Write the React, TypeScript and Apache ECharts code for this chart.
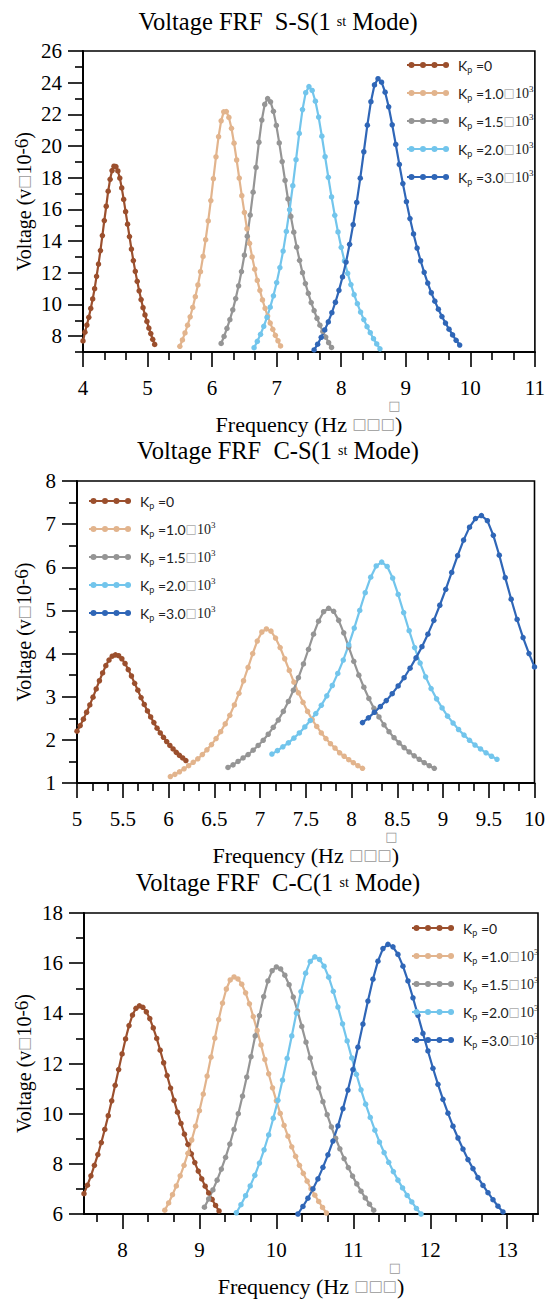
import { useEffect, useRef } from "react";
import * as echarts from "echarts";

// ---------------- data ----------------
const kpValues = ["0", "1.0", "1.5", "2.0", "3.0"];
const seriesNames = ["Kp=0", "Kp=1.0e3", "Kp=1.5e3", "Kp=2.0e3", "Kp=3.0e3"];
const seriesColors = ["#9B4F2D", "#E2B48D", "#959595", "#72C5EC", "#2F66B7"];

// S-S
const ssKp0 = [[4.00,7.7],[4.03,8.25],[4.06,8.7],[4.09,9.19],[4.12,9.75],[4.15,10.35],[4.18,11.0],[4.21,11.78],[4.24,12.55],[4.27,13.4],[4.30,14.35],[4.33,15.3],[4.36,16.2],[4.39,17.15],[4.42,17.9],[4.45,18.45],[4.48,18.73],[4.51,18.7],[4.54,18.43],[4.57,17.98],[4.60,17.36],[4.63,16.63],[4.66,15.86],[4.69,15.07],[4.72,14.29],[4.75,13.5],[4.78,12.77],[4.81,12.09],[4.84,11.46],[4.87,10.86],[4.90,10.31],[4.93,9.8],[4.96,9.34],[4.99,8.93],[5.02,8.51],[5.05,8.16],[5.08,7.8],[5.11,7.48]];
const ssKp10 = [[5.50,7.36],[5.54,7.76],[5.58,8.2],[5.62,8.69],[5.66,9.22],[5.70,9.81],[5.74,10.49],[5.78,11.23],[5.82,12.07],[5.86,13.03],[5.90,14.09],[5.94,15.27],[5.98,16.56],[6.02,17.94],[6.06,19.32],[6.10,20.59],[6.14,21.59],[6.18,22.16],[6.22,22.18],[6.26,21.81],[6.30,21.12],[6.34,20.18],[6.38,19.12],[6.42,17.98],[6.46,16.87],[6.50,15.81],[6.54,14.78],[6.58,13.85],[6.62,13.0],[6.66,12.23],[6.70,11.52],[6.74,10.89],[6.78,10.29],[6.82,9.76],[6.86,9.27],[6.90,8.83],[6.94,8.43],[6.98,8.05],[7.02,7.71],[7.06,7.38]];
const ssKp15 = [[6.14,7.54],[6.185,7.98],[6.23,8.49],[6.275,9.04],[6.32,9.66],[6.365,10.37],[6.41,11.18],[6.455,12.08],[6.50,13.11],[6.545,14.31],[6.59,15.64],[6.635,17.09],[6.68,18.65],[6.725,20.24],[6.77,21.64],[6.815,22.63],[6.86,23.0],[6.905,22.79],[6.95,22.19],[6.995,21.3],[7.04,20.2],[7.085,19.02],[7.13,17.83],[7.175,16.66],[7.22,15.56],[7.265,14.56],[7.31,13.62],[7.355,12.79],[7.40,12.01],[7.445,11.32],[7.49,10.7],[7.535,10.12],[7.58,9.61],[7.625,9.13],[7.67,8.69],[7.715,8.3],[7.76,7.94],[7.805,7.59],[7.85,7.29]];
const ssKp20 = [[6.65,7.27],[6.70,7.67],[6.75,8.12],[6.80,8.62],[6.85,9.19],[6.90,9.83],[6.95,10.55],[7.00,11.38],[7.05,12.33],[7.10,13.37],[7.15,14.61],[7.20,15.98],[7.25,17.5],[7.30,19.14],[7.35,20.8],[7.40,22.3],[7.45,23.37],[7.50,23.75],[7.55,23.51],[7.60,22.83],[7.65,21.83],[7.70,20.62],[7.75,19.33],[7.80,18.03],[7.85,16.79],[7.90,15.63],[7.95,14.58],[8.00,13.61],[8.05,12.75],[8.10,11.97],[8.15,11.26],[8.20,10.62],[8.25,10.05],[8.30,9.52],[8.35,9.05],[8.40,8.6],[8.45,8.22],[8.50,7.84],[8.55,7.51],[8.60,7.2]];
const ssKp30 = [[7.58,7.13],[7.635,7.49],[7.69,7.93],[7.745,8.39],[7.80,8.9],[7.855,9.48],[7.91,10.14],[7.965,10.89],[8.02,11.74],[8.075,12.68],[8.13,13.8],[8.185,15.04],[8.24,16.44],[8.295,17.97],[8.35,19.64],[8.405,21.32],[8.46,22.8],[8.515,23.86],[8.57,24.25],[8.625,24.03],[8.68,23.4],[8.735,22.48],[8.79,21.34],[8.845,20.1],[8.90,18.84],[8.955,17.63],[9.01,16.49],[9.065,15.42],[9.12,14.45],[9.175,13.56],[9.23,12.76],[9.285,12.03],[9.34,11.35],[9.395,10.74],[9.45,10.21],[9.505,9.7],[9.56,9.24],[9.615,8.83],[9.67,8.44],[9.725,8.08],[9.78,7.74],[9.835,7.44]];

// C-S
const csKp0 = [[5.00,2.2],[5.035,2.33],[5.07,2.48],[5.105,2.64],[5.14,2.81],[5.175,2.99],[5.21,3.18],[5.245,3.37],[5.28,3.55],[5.315,3.72],[5.35,3.85],[5.385,3.94],[5.42,3.97],[5.455,3.95],[5.49,3.88],[5.525,3.77],[5.56,3.63],[5.595,3.48],[5.63,3.31],[5.665,3.15],[5.70,2.98],[5.735,2.82],[5.77,2.67],[5.805,2.53],[5.84,2.4],[5.875,2.27],[5.91,2.16],[5.945,2.06],[5.98,1.96],[6.015,1.87],[6.05,1.79],[6.085,1.71],[6.12,1.64],[6.155,1.58],[6.19,1.52]];
const csKp10 = [[6.02,1.15],[6.07,1.2],[6.12,1.26],[6.17,1.33],[6.22,1.4],[6.27,1.48],[6.32,1.56],[6.37,1.66],[6.42,1.77],[6.47,1.89],[6.52,2.03],[6.57,2.19],[6.62,2.37],[6.67,2.57],[6.72,2.81],[6.77,3.08],[6.82,3.37],[6.87,3.68],[6.92,4.0],[6.97,4.29],[7.02,4.5],[7.07,4.57],[7.12,4.52],[7.17,4.36],[7.22,4.14],[7.27,3.88],[7.32,3.61],[7.37,3.34],[7.42,3.09],[7.47,2.87],[7.52,2.66],[7.57,2.47],[7.62,2.31],[7.67,2.16],[7.72,2.03],[7.77,1.91],[7.82,1.81],[7.87,1.7],[7.92,1.62],[7.97,1.54],[8.02,1.47],[8.07,1.4],[8.12,1.34]];
const csKp15 = [[6.65,1.36],[6.705,1.42],[6.76,1.5],[6.815,1.58],[6.87,1.66],[6.925,1.76],[6.98,1.87],[7.035,1.99],[7.09,2.13],[7.145,2.29],[7.20,2.46],[7.255,2.66],[7.31,2.89],[7.365,3.15],[7.42,3.44],[7.475,3.76],[7.53,4.1],[7.585,4.45],[7.64,4.75],[7.695,4.97],[7.75,5.05],[7.805,4.98],[7.86,4.77],[7.915,4.48],[7.97,4.15],[8.025,3.82],[8.08,3.5],[8.135,3.22],[8.19,2.96],[8.245,2.73],[8.30,2.53],[8.355,2.35],[8.41,2.19],[8.465,2.05],[8.52,1.93],[8.575,1.82],[8.63,1.72],[8.685,1.63],[8.74,1.55],[8.795,1.47],[8.85,1.4],[8.905,1.34]];
const csKp20 = [[7.13,1.67],[7.19,1.75],[7.25,1.84],[7.31,1.93],[7.37,2.04],[7.43,2.16],[7.49,2.3],[7.55,2.45],[7.61,2.61],[7.67,2.8],[7.73,3.02],[7.79,3.26],[7.85,3.54],[7.91,3.85],[7.97,4.2],[8.03,4.59],[8.09,5.0],[8.15,5.41],[8.21,5.77],[8.27,6.03],[8.33,6.12],[8.39,6.02],[8.45,5.75],[8.51,5.37],[8.57,4.95],[8.63,4.53],[8.69,4.14],[8.75,3.78],[8.81,3.46],[8.87,3.19],[8.93,2.95],[8.99,2.74],[9.05,2.55],[9.11,2.39],[9.17,2.24],[9.23,2.11],[9.29,1.99],[9.35,1.88],[9.41,1.79],[9.47,1.7],[9.53,1.62],[9.59,1.55]];
const csKp30 = [[8.12,2.4],[8.185,2.51],[8.25,2.64],[8.315,2.77],[8.38,2.91],[8.445,3.07],[8.51,3.25],[8.575,3.44],[8.64,3.66],[8.705,3.9],[8.77,4.16],[8.835,4.45],[8.90,4.77],[8.965,5.12],[9.03,5.49],[9.095,5.88],[9.16,6.27],[9.225,6.63],[9.29,6.93],[9.355,7.13],[9.42,7.2],[9.485,7.08],[9.55,6.74],[9.615,6.28],[9.68,5.76],[9.745,5.26],[9.81,4.79],[9.875,4.37],[9.94,4.0],[10.0,3.69]];

// C-C
const ccKp0 = [[7.50,6.81],[7.545,7.15],[7.59,7.52],[7.635,7.94],[7.68,8.37],[7.725,8.85],[7.77,9.37],[7.815,9.92],[7.86,10.51],[7.905,11.13],[7.95,11.76],[7.995,12.38],[8.04,12.98],[8.085,13.51],[8.13,13.93],[8.175,14.2],[8.22,14.3],[8.265,14.24],[8.31,14.06],[8.355,13.79],[8.40,13.42],[8.445,13.0],[8.49,12.53],[8.535,12.03],[8.58,11.52],[8.625,11.02],[8.67,10.53],[8.715,10.06],[8.76,9.61],[8.805,9.18],[8.85,8.78],[8.895,8.4],[8.94,8.05],[8.985,7.71],[9.03,7.4],[9.075,7.11],[9.12,6.84],[9.165,6.58],[9.21,6.34],[9.255,6.12]];
const ccKp10 = [[8.55,6.15],[8.60,6.44],[8.65,6.77],[8.70,7.12],[8.75,7.52],[8.80,7.94],[8.85,8.42],[8.90,8.95],[8.95,9.5],[9.00,10.12],[9.05,10.78],[9.10,11.5],[9.15,12.25],[9.20,13.01],[9.25,13.75],[9.30,14.41],[9.35,14.97],[9.40,15.33],[9.45,15.45],[9.50,15.37],[9.55,15.16],[9.60,14.82],[9.65,14.38],[9.70,13.87],[9.75,13.32],[9.80,12.74],[9.85,12.16],[9.90,11.59],[9.95,11.03],[10.00,10.51],[10.05,10.01],[10.10,9.53],[10.15,9.1],[10.20,8.68],[10.25,8.3],[10.30,7.94],[10.35,7.62],[10.40,7.31],[10.45,7.01],[10.50,6.75],[10.55,6.5],[10.60,6.26],[10.65,6.04]];
const ccKp15 = [[9.065,6.27],[9.12,6.6],[9.175,6.96],[9.23,7.35],[9.285,7.79],[9.34,8.26],[9.395,8.79],[9.45,9.37],[9.505,10.0],[9.56,10.7],[9.615,11.46],[9.67,12.27],[9.725,13.1],[9.78,13.91],[9.835,14.67],[9.89,15.29],[9.945,15.7],[10.0,15.85],[10.055,15.77],[10.11,15.52],[10.165,15.14],[10.22,14.65],[10.275,14.09],[10.33,13.48],[10.385,12.85],[10.44,12.22],[10.495,11.62],[10.55,11.03],[10.605,10.48],[10.66,9.96],[10.715,9.47],[10.77,9.02],[10.825,8.6],[10.88,8.21],[10.935,7.85],[10.99,7.51],[11.045,7.2],[11.10,6.91],[11.155,6.64],[11.21,6.39],[11.265,6.15]];
const ccKp20 = [[9.48,6.05],[9.54,6.37],[9.60,6.73],[9.66,7.12],[9.72,7.54],[9.78,8.03],[9.84,8.56],[9.90,9.15],[9.96,9.82],[10.02,10.53],[10.08,11.34],[10.14,12.2],[10.20,13.1],[10.26,14.01],[10.32,14.87],[10.38,15.6],[10.44,16.07],[10.50,16.25],[10.56,16.15],[10.62,15.88],[10.68,15.44],[10.74,14.88],[10.80,14.25],[10.86,13.58],[10.92,12.9],[10.98,12.22],[11.04,11.57],[11.10,10.95],[11.16,10.38],[11.22,9.85],[11.28,9.34],[11.34,8.87],[11.40,8.45],[11.46,8.06],[11.52,7.69],[11.58,7.35],[11.64,7.04],[11.70,6.74],[11.76,6.48],[11.82,6.22],[11.88,6.0]];
const ccKp30 = [[10.28,6.0],[10.345,6.3],[10.41,6.63],[10.475,7.0],[10.54,7.4],[10.605,7.86],[10.67,8.36],[10.735,8.91],[10.80,9.51],[10.865,10.2],[10.93,10.94],[10.995,11.76],[11.06,12.65],[11.125,13.57],[11.19,14.49],[11.255,15.36],[11.32,16.08],[11.385,16.58],[11.45,16.75],[11.515,16.65],[11.58,16.35],[11.645,15.88],[11.71,15.29],[11.775,14.62],[11.84,13.92],[11.905,13.2],[11.97,12.5],[12.035,11.81],[12.10,11.17],[12.165,10.57],[12.23,10.02],[12.295,9.5],[12.36,9.03],[12.425,8.59],[12.49,8.17],[12.555,7.81],[12.62,7.45],[12.685,7.14],[12.75,6.85],[12.815,6.57],[12.88,6.31],[12.945,6.08]];

// tick labels
const ssXTicks = [4, 5, 6, 7, 8, 9, 10, 11];
const ssYTicks = [8, 10, 12, 14, 16, 18, 20, 22, 24, 26];
const csXTicks = [5, 5.5, 6, 6.5, 7, 7.5, 8, 8.5, 9, 9.5, 10];
const csYTicks = [1, 2, 3, 4, 5, 6, 7, 8];
const ccXTicks = [8, 9, 10, 11, 12, 13];
const ccYTicks = [6, 8, 10, 12, 14, 16, 18];

const titles = ["S-S", "C-S", "C-C"];

// ---------------- layout ----------------
const panels = [
  {
    mode: titles[0], data: [ssKp0, ssKp10, ssKp15, ssKp20, ssKp30],
    xMin: 4, xMax: 11, yMin: 7, yMax: 26, xTicks: ssXTicks, yTicks: ssYTicks,
    xMinorStep: 1 / 3, yMinorStep: 1,
    grid: { left: 83, top: 51, width: 455, height: 301 },
    legend: { left: 407, top: 58 }, titleY: 21,
  },
  {
    mode: titles[1], data: [csKp0, csKp10, csKp15, csKp20, csKp30],
    xMin: 5, xMax: 10, yMin: 1, yMax: 8, xTicks: csXTicks, yTicks: csYTicks,
    xMinorStep: 1 / 6, yMinorStep: 0.5,
    grid: { left: 77, top: 481, width: 461, height: 302 },
    legend: { left: 89, top: 494 }, titleY: 450,
  },
  {
    mode: titles[2], data: [ccKp0, ccKp10, ccKp15, ccKp20, ccKp30],
    xMin: 7.5, xMax: 13.4, yMin: 6, yMax: 18, xTicks: ccXTicks, yTicks: ccYTicks,
    xMinorStep: 1 / 3, yMinorStep: 1,
    grid: { left: 84, top: 913, width: 454, height: 301 },
    legend: { left: 412, top: 921 }, titleY: 882,
  },
];

function minorTicks(min: number, max: number, step: number, majors: number[]) {
  const out: number[] = [];
  const start = Math.ceil(min / step - 1e-9);
  for (let k = start; k * step <= max + 1e-9; k++) {
    const v = +(k * step).toFixed(6);
    if (!majors.some((m) => Math.abs(m - v) < 1e-6)) out.push(v);
  }
  return out;
}

const SERIF = "'Liberation Serif', 'Times New Roman', serif";
const SANS = "Lato, 'Open Sans', sans-serif";
const BOXF = "'DejaVu Sans', sans-serif";
const BLACK = "#000";
const lineSt = { color: BLACK, width: 1.6 };

const legendIcon =
  "path://M0,2L42,2L42,4L0,4Z" +
  "M1.5,3A3,3 0 1,1 7.5,3A3,3 0 1,1 1.5,3Z" +
  "M13,3A3,3 0 1,1 19,3A3,3 0 1,1 13,3Z" +
  "M24.5,3A3,3 0 1,1 30.5,3A3,3 0 1,1 24.5,3Z" +
  "M36,3A3,3 0 1,1 42,3A3,3 0 1,1 36,3Z";

const legendRich = {
  k: { fontFamily: SANS, fontSize: 14, lineHeight: 18, color: "#222", padding: [0, 0, 0, 4] },
  p: { fontFamily: SANS, fontSize: 9, lineHeight: 8, verticalAlign: "bottom", color: "#222" },
  t: { fontFamily: SANS, fontSize: 14, lineHeight: 18, color: "#222" },
  b: { fontFamily: BOXF, fontSize: 12, lineHeight: 18, color: "#aaa" },
  n: { fontFamily: SERIF, fontSize: 14, lineHeight: 18, color: "#222" },
  e: { fontFamily: SERIF, fontSize: 9, lineHeight: 12, verticalAlign: "top", color: "#222" },
};

function legendFormatter(name: string) {
  const i = seriesNames.indexOf(name);
  if (i === 0) return "{k|K}{p|p}{t| =" + kpValues[0] + "}";
  return "{k|K}{p|p}{t| =" + kpValues[i] + "}{b|□}{n|10}{e|3}";
}

function buildOption() {
  const grid: any[] = [];
  const xAxis: any[] = [];
  const yAxis: any[] = [];
  const legend: any[] = [];
  const series: any[] = [];
  const graphic: any[] = [];

  panels.forEach((p, gi) => {
    grid.push({ ...p.grid, show: true, borderColor: BLACK, borderWidth: 1.6, backgroundColor: "transparent" });
    const xMinor = minorTicks(p.xMin, p.xMax, p.xMinorStep, p.xTicks);
    const yMinor = minorTicks(p.yMin, p.yMax, p.yMinorStep, p.yTicks);

    xAxis.push({
      gridIndex: gi, type: "value", position: "bottom", min: p.xMin, max: p.xMax,
      axisLine: { show: true, onZero: false, lineStyle: lineSt },
      axisTick: { show: true, inside: false, length: 15, customValues: p.xTicks, lineStyle: lineSt },
      axisLabel: { show: true, customValues: p.xTicks, margin: 25, fontFamily: SERIF, fontSize: 21, color: BLACK },
      splitLine: { show: false },
      name: "{a|Frequency (Hz }{b|□□□}{a|)}",
      nameLocation: "middle", nameGap: 61,
      nameTextStyle: {
        fontFamily: SERIF,
        rich: {
          a: { fontFamily: SERIF, fontSize: 22, lineHeight: 22, color: BLACK },
          b: { fontFamily: BOXF, fontSize: 15, lineHeight: 22, color: "#999" },
        },
      },
    });
    xAxis.push({
      gridIndex: gi, type: "value", position: "bottom", min: p.xMin, max: p.xMax,
      axisLine: { show: true, onZero: false, lineStyle: lineSt },
      axisTick: { show: true, inside: false, length: 8, customValues: xMinor, lineStyle: lineSt },
      axisLabel: { show: false },
      splitLine: { show: false },
    });
    yAxis.push({
      gridIndex: gi, type: "value", position: "left", min: p.yMin, max: p.yMax,
      axisLine: { show: true, onZero: false, lineStyle: lineSt },
      axisTick: { show: true, inside: false, length: 15, customValues: p.yTicks, lineStyle: lineSt },
      axisLabel: { show: true, customValues: p.yTicks, margin: 21, fontFamily: SERIF, fontSize: 21, color: BLACK },
      splitLine: { show: false },
    });
    yAxis.push({
      gridIndex: gi, type: "value", position: "left", min: p.yMin, max: p.yMax,
      axisLine: { show: true, onZero: false, lineStyle: lineSt },
      axisTick: { show: true, inside: false, length: 8, customValues: yMinor, lineStyle: lineSt },
      axisLabel: { show: false },
      splitLine: { show: false },
    });

    legend.push({
      orient: "vertical", left: p.legend.left, top: p.legend.top, padding: 0,
      itemWidth: 42, itemHeight: 6, itemGap: 10, icon: legendIcon,
      selectedMode: false, data: seriesNames, formatter: legendFormatter,
      textStyle: { fontFamily: SANS, rich: legendRich },
    });

    p.data.forEach((d, si) => {
      series.push({
        type: "line", name: seriesNames[si], xAxisIndex: gi * 2, yAxisIndex: gi * 2,
        data: d, symbol: "circle", symbolSize: 5.5, showSymbol: true,
        lineStyle: { width: 2.2, color: seriesColors[si] },
        itemStyle: { color: seriesColors[si] },
        emphasis: { disabled: true }, silent: true,
      });
    });

    // title
    graphic.push({
      type: "text", x: 278, y: p.titleY,
      style: {
        text: "{a|Voltage FRF  " + p.mode + "(1 }{s|st}{a| Mode)}",
        align: "center", verticalAlign: "middle", fill: BLACK,
        fontFamily: SERIF, fontSize: 24,
        rich: {
          a: { fontFamily: SERIF, fontSize: 24.5, lineHeight: 30, fill: BLACK },
          s: { fontFamily: SERIF, fontSize: 14, lineHeight: 30, fill: BLACK },
        },
      },
    });
    // y axis name
    graphic.push({
      type: "text", x: 24, y: p.grid.top + p.grid.height / 2, rotation: Math.PI / 2,
      style: {
        text: "{a|Voltage (v}{b|□}{a|10}{s|-6}{a|)}",
        align: "center", verticalAlign: "middle", fill: BLACK,
        fontFamily: SERIF, fontSize: 20,
        rich: {
          a: { fontFamily: SERIF, fontSize: 20, lineHeight: 24, fill: BLACK },
          b: { fontFamily: BOXF, fontSize: 15, lineHeight: 24, fill: "#999" },
          s: { fontFamily: SERIF, fontSize: 19, lineHeight: 16, verticalAlign: "top", fill: BLACK },
        },
      },
    });
    // raised box glyph above the last box of the x axis name
    const cx = p.grid.left + p.grid.width / 2;
    const cy = p.grid.top + p.grid.height + 72;
    graphic.push({
      type: "text", x: cx + 84, y: cy - 19,
      style: { text: "□", fontFamily: BOXF, fontSize: 13, lineHeight: 13, fill: "#999", align: "center", verticalAlign: "middle" },
    });
  });

  return {
    animation: false,
    backgroundColor: "#fff",
    textStyle: { fontFamily: SERIF },
    grid, xAxis, yAxis, legend, series, graphic,
  };
}

export default function App() {
  const ref = useRef<HTMLDivElement>(null);
  useEffect(() => {
    const chart = echarts.init(ref.current!, null, { renderer: "svg" });
    chart.setOption(buildOption() as any);
    return () => chart.dispose();
  }, []);
  return (
    <div
      ref={ref}
      style={{ position: "absolute", left: 0, top: 0, width: 548, height: 1300 }}
    />
  );
}
